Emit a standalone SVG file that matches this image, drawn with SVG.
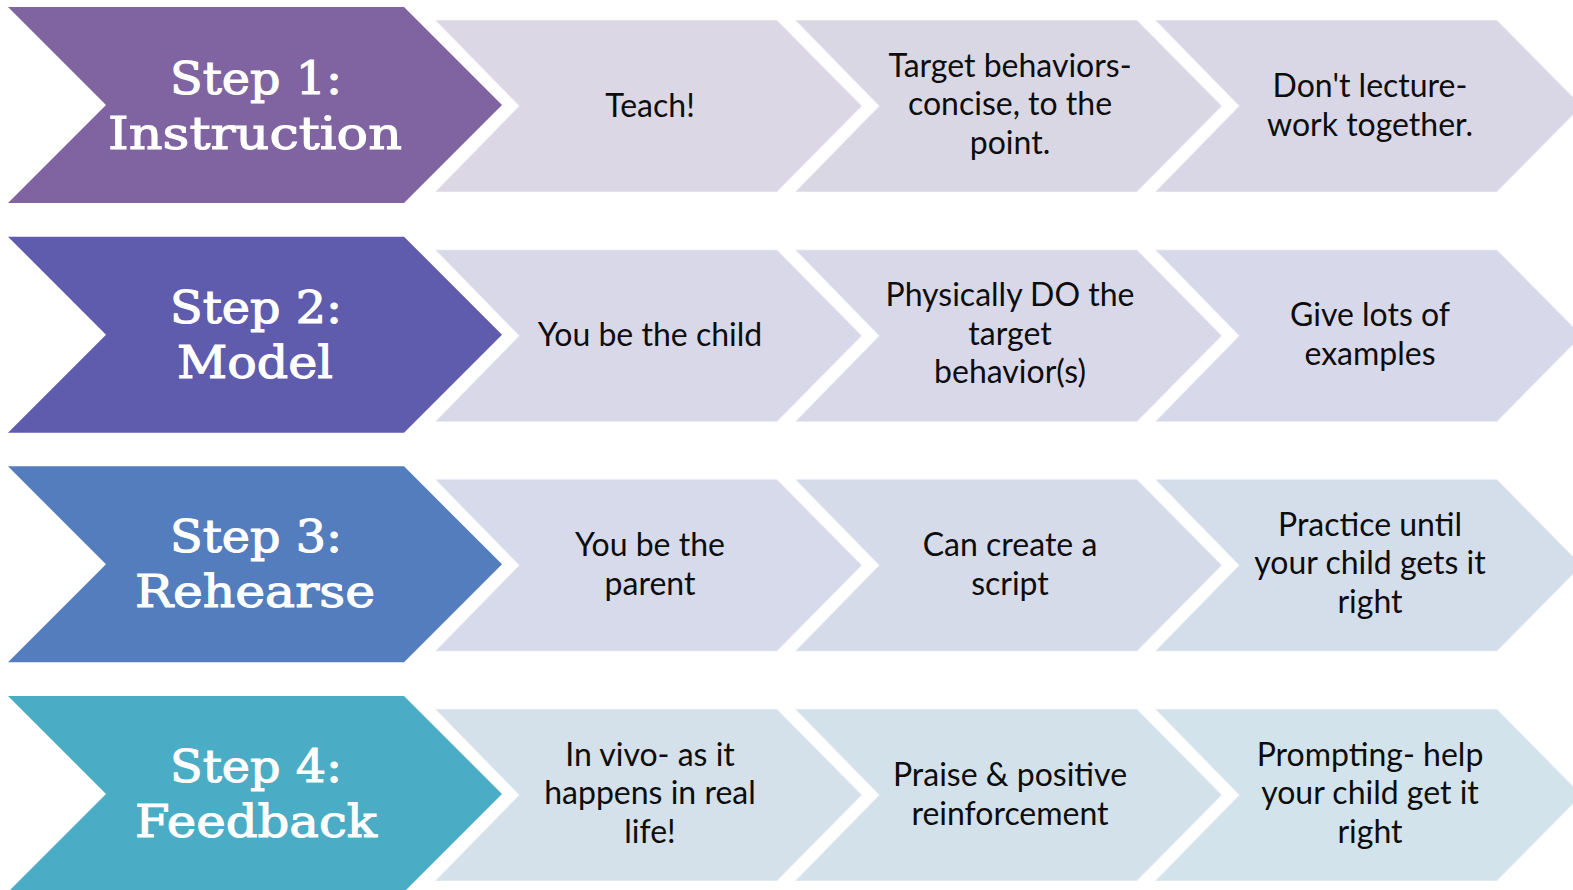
<svg xmlns="http://www.w3.org/2000/svg" width="1573" height="890" viewBox="0 0 1573 890">
<style>
  .big { stroke: none; }
  .sm { stroke: #ffffff; stroke-opacity: 0.35; stroke-width: 1.5; }
  .title { font-family: "DejaVu Serif", "Liberation Serif", serif; font-size: 45px; fill: #ffffff; stroke: #ffffff; stroke-width: 1.1; text-anchor: middle; }
  .lbl { font-family: Lato, "Open Sans", "Liberation Sans", sans-serif; font-size: 32px; fill: #0d0d0d; text-anchor: middle; }
</style>
<defs>
  <path id="bigShape" d="M8,0 H404 L502,98 L404,196 H8 L106,98 Z"/>
  <path id="smShape" d="M0,0 H342 L427,86 L342,172 H0 L84,86 Z"/>
</defs>
<rect width="1573" height="890" fill="#ffffff"/>

<!-- Row 1 -->
<g id="step1" transform="translate(0,7)">
  <use href="#bigShape" fill="#8064A2"/>
  <text class="title" x="256" y="87" textLength="172" lengthAdjust="spacingAndGlyphs">Step 1:</text>
  <text class="title" x="255" y="142" textLength="294" lengthAdjust="spacingAndGlyphs">Instruction</text>
</g>
<g id="r1c1" transform="translate(435,20)">
  <use href="#smShape" class="sm" fill="#DBD7E5"/>
  <text class="lbl" x="215" y="96.5">Teach!</text>
</g>
<g id="r1c2" transform="translate(795,20)">
  <use href="#smShape" class="sm" fill="#DAD7E5"/>
  <text class="lbl" x="215" y="56.5">Target behaviors-</text>
  <text class="lbl" x="215" y="95">concise, to the</text>
  <text class="lbl" x="215" y="133.5">point.</text>
</g>
<g id="r1c3" transform="translate(1155,20)">
  <use href="#smShape" class="sm" fill="#D9D7E6"/>
  <text class="lbl" x="215" y="76.5">Don't lecture-</text>
  <text class="lbl" x="215" y="115.5">work together.</text>
</g>

<!-- Row 2 -->
<g id="step2" transform="translate(0,236.67)">
  <use href="#bigShape" fill="#5F5BAD"/>
  <text class="title" x="256" y="86" textLength="172" lengthAdjust="spacingAndGlyphs">Step 2:</text>
  <text class="title" x="255" y="141" textLength="156" lengthAdjust="spacingAndGlyphs">Model</text>
</g>
<g id="r2c1" transform="translate(435,249.67)">
  <use href="#smShape" class="sm" fill="#D9D8E9"/>
  <text class="lbl" x="215" y="96.5">You be the child</text>
</g>
<g id="r2c2" transform="translate(795,249.67)">
  <use href="#smShape" class="sm" fill="#D8D8E8"/>
  <text class="lbl" x="215" y="56.5">Physically DO the</text>
  <text class="lbl" x="215" y="95">target</text>
  <text class="lbl" x="215" y="133.5">behavior(s)</text>
</g>
<g id="r2c3" transform="translate(1155,249.67)">
  <use href="#smShape" class="sm" fill="#D7D8E9"/>
  <text class="lbl" x="215" y="76.5">Give lots of</text>
  <text class="lbl" x="215" y="115.5">examples</text>
</g>

<!-- Row 3 -->
<g id="step3" transform="translate(0,466.33)">
  <use href="#bigShape" fill="#537DBD"/>
  <text class="title" x="256" y="86" textLength="172" lengthAdjust="spacingAndGlyphs">Step 3:</text>
  <text class="title" x="255" y="141" textLength="240" lengthAdjust="spacingAndGlyphs">Rehearse</text>
</g>
<g id="r3c1" transform="translate(435,479.33)">
  <use href="#smShape" class="sm" fill="#D7DAEA"/>
  <text class="lbl" x="215" y="76.5">You be the</text>
  <text class="lbl" x="215" y="115.5">parent</text>
</g>
<g id="r3c2" transform="translate(795,479.33)">
  <use href="#smShape" class="sm" fill="#D6DBEA"/>
  <text class="lbl" x="215" y="76.5">Can create a</text>
  <text class="lbl" x="215" y="115.5">script</text>
</g>
<g id="r3c3" transform="translate(1155,479.33)">
  <use href="#smShape" class="sm" fill="#D4DEEA"/>
  <text class="lbl" x="215" y="56.5">Practice until</text>
  <text class="lbl" x="215" y="95">your child gets it</text>
  <text class="lbl" x="215" y="133.5">right</text>
</g>

<!-- Row 4 -->
<g id="step4" transform="translate(0,696)">
  <use href="#bigShape" fill="#4BACC6"/>
  <text class="title" x="256" y="86" textLength="172" lengthAdjust="spacingAndGlyphs">Step 4:</text>
  <text class="title" x="256" y="141" textLength="242" lengthAdjust="spacingAndGlyphs">Feedback</text>
</g>
<g id="r4c1" transform="translate(435,709)">
  <use href="#smShape" class="sm" fill="#D4E0EA"/>
  <text class="lbl" x="215" y="56.5">In vivo- as it</text>
  <text class="lbl" x="215" y="95">happens in real</text>
  <text class="lbl" x="215" y="133.5">life!</text>
</g>
<g id="r4c2" transform="translate(795,709)">
  <use href="#smShape" class="sm" fill="#D3E1EA"/>
  <text class="lbl" x="215" y="76.5">Praise &amp; positive</text>
  <text class="lbl" x="215" y="115.5">reinforcement</text>
</g>
<g id="r4c3" transform="translate(1155,709)">
  <use href="#smShape" class="sm" fill="#D3E3EB"/>
  <text class="lbl" x="215" y="56.5">Prompting- help</text>
  <text class="lbl" x="215" y="95">your child get it</text>
  <text class="lbl" x="215" y="133.5">right</text>
</g>

<g id="connectors"></g>
</svg>
